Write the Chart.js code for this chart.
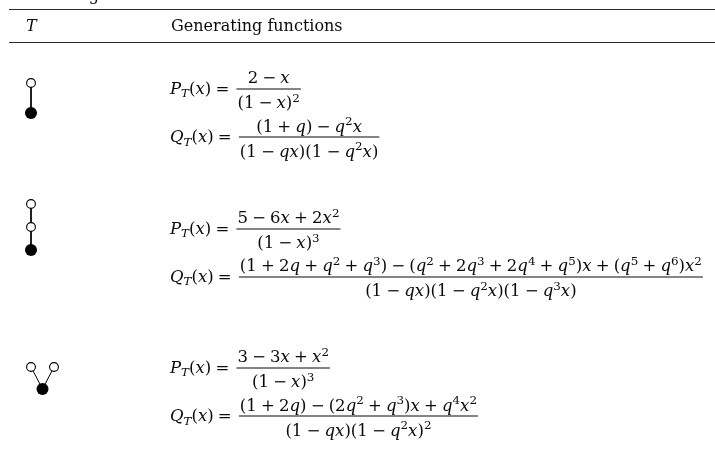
<!DOCTYPE html>
<html>
<head>
<meta charset="utf-8">
<script src="https://cdn.jsdelivr.net/npm/chart.js@4.4.1/dist/chart.umd.min.js"></script>
<style>
  html, body { margin: 0; padding: 0; background: #fff; }
  canvas { display: block; }
</style>
</head>
<body>
<canvas id="table" width="715" height="460"></canvas>
<script>
// table content
const headers = ['T', 'Generating functions'];
const captionTail = 'ng';
const labelP = 'P_T(x) =';
const labelQ = 'Q_T(x) =';
const pNumerators = ['2 - x', '5 - 6x + 2x^2', '3 - 3x + x^2'];
const pDenominators = ['(1 - x)^2', '(1 - x)^3', '(1 - x)^3'];
const qNumerators = [
  '(1 + q) - q^2x',
  '(1 + 2q + q^2 + q^3) - (q^2 + 2q^3 + 2q^4 + q^5)x + (q^5 + q^6)x^2',
  '(1 + 2q) - (2q^2 + q^3)x + q^4x^2'
];
const qDenominators = ['(1 - qx)(1 - q^2x)', '(1 - qx)(1 - q^2x)(1 - q^3x)', '(1 - qx)(1 - q^2x)^2'];

// trees: [column, depth, filled]
const treeNodes = [
  [[0, 0, 0], [0, 1, 1]],
  [[0, 0, 0], [0, 1, 0], [0, 2, 1]],
  [[0, 0, 0], [2, 0, 0], [1, 1, 1]]
];
const treeEdges = [
  [[0, 1]],
  [[0, 1], [1, 2]],
  [[0, 2], [1, 2]]
];

// layout (in canvas units)
const W = 715, H = 460;
const ruleLeft = 9, ruleTop = 9.5, ruleHead = 42.5;
const barP = [88.5, 228.5, 367.5];
const barQ = [137, 276.5, 416];
const treeLeft = 31, treeCol = 11.5;
const treeTop = [83, 204, 367];
const treeStep = [30, 23, 22];
const labelX = 170;
const widestNumerator = 462;
const mathSize = 16;
const SPACE = 0.26;
const FONT = '"DejaVu Serif"';
const INK = '#0a0a0a';

const openPts = [], fullPts = [], edgeSets = [];
treeNodes.forEach((nodes, t) => {
  const pts = nodes.map(n => ({ x: treeLeft + n[0] * treeCol, y: treeTop[t] + n[1] * treeStep[t] }));
  nodes.forEach((n, k) => (n[2] ? fullPts : openPts).push(pts[k]));
  treeEdges[t].forEach(e => edgeSets.push([pts[e[0]], pts[e[1]]]));
});

const datasets = [
  { data: openPts, pointRadius: 4.4, pointBackgroundColor: '#fff', pointBorderColor: '#000', pointBorderWidth: 1.1, order: 0 },
  { data: fullPts, pointRadius: 6, pointBackgroundColor: '#000', pointBorderColor: '#000', pointBorderWidth: 0, order: 0 }
];
edgeSets.forEach(seg => datasets.push({ data: seg, showLine: true, borderColor: '#000', borderWidth: 1, pointRadius: 0, order: 1 }));
[ruleTop, ruleHead].forEach(y => datasets.push({
  data: [{ x: ruleLeft, y }, { x: W, y }], showLine: true, borderColor: '#2a2a2a', borderWidth: 1, pointRadius: 0, order: 2
}));

// tiny math typesetter
function parseMath(src) {
  const out = [];
  let i = 0;
  while (i < src.length) {
    let c = src[i], level = 0;
    if (c === '^' || c === '_') { level = c === '^' ? 1 : -1; c = src[++i]; }
    i++;
    if (c === ' ') { out.push({ space: true }); continue; }
    out.push({ text: c === '-' ? '\u2212' : c, italic: /[A-Za-z]/.test(c), level });
  }
  return out;
}
function tokFont(tok, size) {
  const s = tok.level ? size * 0.72 : size;
  return (tok.italic ? 'italic ' : '') + s.toFixed(2) + 'px ' + FONT;
}
function mathWidth(ctx, src, size, k) {
  let w = 0;
  parseMath(src).forEach(tok => {
    if (tok.space) { w += size * SPACE; return; }
    ctx.font = tokFont(tok, size);
    w += ctx.measureText(tok.text).width * k;
  });
  return w;
}
function drawMath(ctx, src, x, y, size, k) {
  parseMath(src).forEach(tok => {
    if (tok.space) { x += size * SPACE; return; }
    ctx.font = tokFont(tok, size);
    const dy = tok.level > 0 ? -0.38 * size : tok.level < 0 ? 0.24 * size : 0;
    ctx.save();
    ctx.translate(x, y + dy);
    ctx.scale(k, 1);
    ctx.fillText(tok.text, 0, 0);
    ctx.restore();
    x += ctx.measureText(tok.text).width * k;
  });
  return x;
}

const tablePlugin = {
  id: 'tableText',
  afterDraw(chart) {
    const ctx = chart.ctx, sx = chart.scales.x, sy = chart.scales.y;
    ctx.save();
    ctx.fillStyle = INK;
    ctx.textBaseline = 'alphabetic';

    // clipped caption above the table
    ctx.font = '16px ' + FONT;
    ctx.textAlign = 'right';
    ctx.fillText(captionTail, sx.getPixelForValue(99), sy.getPixelForValue(0));
    ctx.textAlign = 'left';

    ctx.font = 'italic 16px ' + FONT;
    ctx.fillText(headers[0], sx.getPixelForValue(26), sy.getPixelForValue(31));
    ctx.font = '16px ' + FONT;
    ctx.fillText(headers[1], sx.getPixelForValue(171), sy.getPixelForValue(31));

    const size = mathSize;
    // squeeze glyphs so the widest numerator spans the same width as in the table
    const spaceW = parseMath(qNumerators[1]).filter(t => t.space).length * size * SPACE;
    const k = (widestNumerator - spaceW) / (mathWidth(ctx, qNumerators[1], size, 1) - spaceW);

    function fraction(label, num, den, barY) {
      const y = sy.getPixelForValue(barY);
      const x0 = sx.getPixelForValue(labelX);
      const xe = drawMath(ctx, label, x0, y + 0.32 * size, size, k);
      const wn = mathWidth(ctx, num, size, k), wd = mathWidth(ctx, den, size, k);
      const w = Math.max(wn, wd) + 2;
      const left = xe + 0.45 * size;
      ctx.fillRect(left, Math.round(y) - 0.5, w, 1);
      drawMath(ctx, num, left + (w - wn) / 2, y - 0.34 * size, size, k);
      drawMath(ctx, den, left + (w - wd) / 2, y + 1.22 * size, size, k);
    }
    for (let r = 0; r < pNumerators.length; r++) {
      fraction(labelP, pNumerators[r], pDenominators[r], barP[r]);
      fraction(labelQ, qNumerators[r], qDenominators[r], barQ[r]);
    }
    ctx.restore();
  }
};

new Chart(document.getElementById('table'), {
  type: 'scatter',
  data: { datasets },
  options: {
    responsive: false,
    animation: false,
    events: [],
    layout: { padding: 0, autoPadding: false },
    plugins: { legend: { display: false }, tooltip: { enabled: false } },
    elements: { line: { tension: 0 } },
    scales: {
      x: { type: 'linear', min: 0, max: W, display: false },
      y: { type: 'linear', min: 0, max: H, reverse: true, display: false }
    }
  },
  plugins: [tablePlugin]
});
</script>
</body>
</html>
